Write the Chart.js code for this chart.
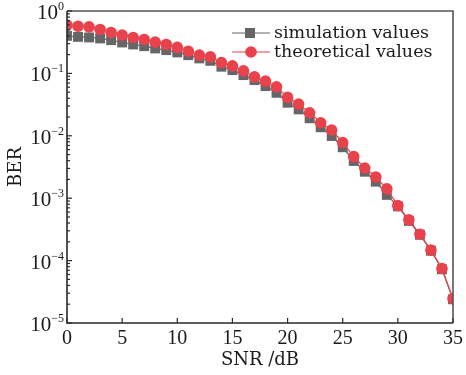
<!DOCTYPE html>
<html>
<head>
<meta charset="utf-8">
<script src="https://cdn.jsdelivr.net/npm/chart.js@4"></script>
<style>
  html, body { margin: 0; padding: 0; background: #fff; }
  #wrap { width: 466px; height: 375px; position: relative; }
</style>
</head>
<body>
<div id="wrap"><canvas id="c"></canvas></div>
<script>
const snr = [0,1,2,3,4,5,6,7,8,9,10,11,12,13,14,15,16,17,18,19,20,21,22,23,24,25,26,27,28,29,30,31,32,33,34,35];
const simulationValues = [0.400,0.385,0.377,0.363,0.341,0.313,0.291,0.273,0.251,0.236,0.217,0.196,0.174,0.159,0.128,0.113,0.0939,0.0781,0.0626,0.0489,0.0339,0.0265,0.0191,0.0137,0.00993,0.00655,0.00395,0.00266,0.00184,0.00113,0.00074,0.000433,0.000259,0.000144,0.0000726,0.0000240];
const theoreticalValues = [0.593,0.571,0.557,0.506,0.453,0.410,0.377,0.350,0.317,0.291,0.261,0.227,0.196,0.184,0.149,0.132,0.110,0.0882,0.0753,0.0610,0.0413,0.0323,0.0234,0.0162,0.01238,0.00781,0.00463,0.00305,0.00219,0.00141,0.000761,0.000450,0.000265,0.000147,0.0000747,0.0000245];
const xTickLabels = [0,5,10,15,20,25,30,35];
const yTickExponents = [0,-1,-2,-3,-4,-5];
const seriesNames = ['simulation values','theoretical values'];
const xTitle = 'SNR /dB';
const yTitle = 'BER';

const GRAY = '#666668';
const RED = '#e8434d';
const SERIF = '"Liberation Serif", "DejaVu Serif", serif';
const WIDE = '"DejaVu Serif", "Liberation Serif", serif';

const decor = {
  id: 'decor',
  afterDraw(chart) {
    const ctx = chart.ctx;
    const xs = chart.scales.x, ys = chart.scales.y;
    const a = chart.chartArea;
    ctx.save();
    // frame
    ctx.strokeStyle = '#2a2a2a';
    ctx.lineWidth = 1.6;
    ctx.beginPath();
    ctx.moveTo(a.left, a.top); ctx.lineTo(a.left, a.bottom); ctx.lineTo(a.right, a.bottom);
    ctx.stroke();
    ctx.strokeStyle = '#555';
    ctx.beginPath();
    ctx.moveTo(a.left, a.top); ctx.lineTo(a.right, a.top); ctx.lineTo(a.right, a.bottom);
    ctx.stroke();
    // x ticks
    ctx.strokeStyle = '#2a2a2a';
    ctx.lineWidth = 1.2;
    ctx.fillStyle = '#1a1a1a';
    ctx.font = '20px ' + SERIF;
    ctx.textAlign = 'center';
    ctx.textBaseline = 'alphabetic';
    xTickLabels.forEach(v => {
      const px = xs.getPixelForValue(v);
      ctx.beginPath(); ctx.moveTo(px, a.bottom); ctx.lineTo(px, a.bottom - 5); ctx.stroke();
      ctx.fillText(String(v), px, a.bottom + 21);
    });
    // y ticks
    yTickExponents.forEach(e => {
      const py = ys.getPixelForValue(Math.pow(10, e));
      ctx.beginPath(); ctx.moveTo(a.left, py); ctx.lineTo(a.left + 5, py); ctx.stroke();
      if (e > -5) {
        for (let m = 2; m <= 9; m++) {
          const pm = ys.getPixelForValue(m * Math.pow(10, e - 1));
          ctx.beginPath(); ctx.moveTo(a.left, pm); ctx.lineTo(a.left + 3, pm); ctx.stroke();
        }
      }
      const expStr = e === 0 ? '0' : '\u2212' + String(-e);
      ctx.font = '12px ' + SERIF;
      const ew = ctx.measureText(expStr).width;
      const right = a.left - 3;
      ctx.textAlign = 'left';
      ctx.fillText(expStr, right - ew, py - 1);
      ctx.font = '21px ' + SERIF;
      ctx.textAlign = 'right';
      ctx.fillText('10', right - ew, py + 8);
    });
    // axis titles
    ctx.font = '18px ' + WIDE;
    ctx.textAlign = 'center';
    ctx.fillText(xTitle, (a.left + a.right) / 2, a.bottom + 42);
    ctx.save();
    ctx.translate(21, (a.top + a.bottom) / 2);
    ctx.rotate(-Math.PI / 2);
    ctx.fillText(yTitle, 0, 0);
    ctx.restore();
    // legend
    const items = [
      {name: seriesNames[0], color: GRAY, style: 'rect', y: 33},
      {name: seriesNames[1], color: RED, style: 'circle', y: 52}
    ];
    ctx.font = '17.5px ' + WIDE;
    ctx.textAlign = 'left';
    items.forEach(it => {
      ctx.strokeStyle = it.color;
      ctx.lineWidth = 1.2;
      ctx.beginPath(); ctx.moveTo(232, it.y); ctx.lineTo(270, it.y); ctx.stroke();
      ctx.fillStyle = it.color;
      if (it.style === 'rect') {
        ctx.fillRect(250 - 5, it.y - 5, 10, 10);
      } else {
        ctx.beginPath(); ctx.arc(251, it.y, 5.8, 0, Math.PI * 2); ctx.fill();
      }
      ctx.fillStyle = '#1a1a1a';
      ctx.fillText(it.name, 274, it.y + 5);
    });
    ctx.restore();
  }
};

new Chart(document.getElementById('c'), {
  type: 'line',
  data: {
    labels: snr,
    datasets: [
      {
        label: seriesNames[0],
        data: simulationValues,
        borderColor: GRAY,
        backgroundColor: GRAY,
        borderWidth: 1.2,
        pointStyle: 'rect',
        pointRadius: 7,
        pointBorderWidth: 0,
        pointHoverRadius: 7,
        order: 2
      },
      {
        label: seriesNames[1],
        data: theoreticalValues,
        borderColor: RED,
        backgroundColor: RED,
        borderWidth: 1.2,
        pointStyle: 'circle',
        pointRadius: 5.8,
        pointBorderWidth: 0,
        pointHoverRadius: 5.8,
        order: 1
      }
    ]
  },
  options: {
    responsive: true,
    maintainAspectRatio: false,
    animation: false,
    events: [],
    layout: { padding: { left: 67, right: 13, top: 11, bottom: 52 } },
    plugins: { legend: { display: false }, tooltip: { enabled: false } },
    scales: {
      x: { type: 'linear', min: 0, max: 35, display: false },
      y: { type: 'logarithmic', min: 1e-5, max: 1, display: false }
    }
  },
  plugins: [decor]
});
</script>
</body>
</html>
